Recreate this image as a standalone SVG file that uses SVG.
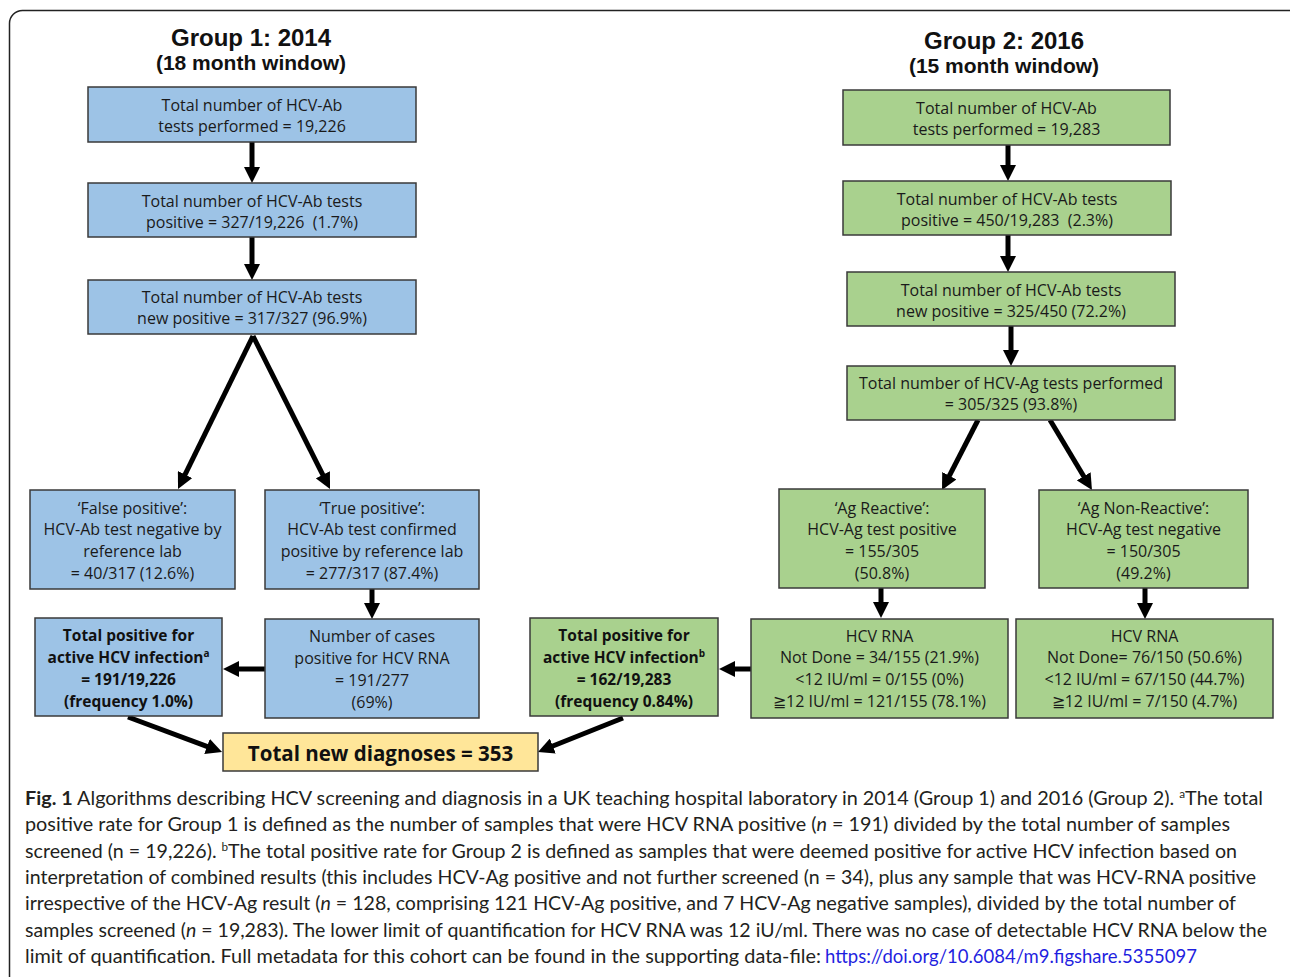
<svg xmlns="http://www.w3.org/2000/svg" width="1290" height="977" viewBox="0 0 1290 977">
<style>
.bx{stroke:#3a3a3a;stroke-width:1.5}
.blue{fill:#9dc3e6}
.green{fill:#a9d18e}
.yellow{fill:#ffe699}
.t{font-family:"Open Sans","Liberation Sans",sans-serif;font-size:16px;fill:#1a1a1a;text-anchor:middle}
.tb{font-family:"Open Sans","Liberation Sans",sans-serif;font-size:15.5px;font-weight:bold;fill:#111;text-anchor:middle}
.tbig{font-family:"Open Sans","Liberation Sans",sans-serif;font-size:20.5px;font-weight:bold;fill:#111;text-anchor:middle}
.ti{font-family:"Liberation Sans",Arial,sans-serif;font-weight:bold;fill:#111;text-anchor:middle}
.cap{font-family:Lato,"Open Sans",sans-serif;font-size:18.5px;fill:#231f20}
.arr{stroke:#000;stroke-width:5;fill:none;marker-end:url(#ah)}
</style>
<defs>
<marker id="ah" markerUnits="userSpaceOnUse" markerWidth="16" markerHeight="16" viewBox="0 0 16 16" refX="4" refY="8" orient="auto">
<path d="M0,0 L16,8 L0,16 z" fill="#000"/>
</marker>
</defs>
<rect x="0" y="0" width="1290" height="977" fill="#fff"/>
<rect x="9.5" y="10.5" width="1300" height="990" rx="13" fill="none" stroke="#222" stroke-width="1.5"/>

<g id="titles">
<text class="ti" x="251" y="46" font-size="24">Group 1: 2014</text>
<text class="ti" x="251" y="70" font-size="21">(18 month window)</text>
<text class="ti" x="1004" y="49" font-size="24">Group 2: 2016</text>
<text class="ti" x="1004" y="73" font-size="21">(15 month window)</text>
</g>

<g id="connectors">
<line class="arr" x1="252" y1="142" x2="252" y2="171"/>
<line class="arr" x1="252" y1="237" x2="252" y2="268"/>
<line class="arr" x1="253" y1="336" x2="183.3" y2="478.2"/>
<line class="arr" x1="253" y1="336" x2="324.6" y2="478.3"/>
<line class="arr" x1="372" y1="589" x2="372" y2="607"/>
<line class="arr" x1="265" y1="669" x2="235" y2="669"/>
<line class="arr" x1="128" y1="717" x2="210.8" y2="747.8"/>
<line class="arr" x1="623" y1="718" x2="549.1" y2="747.5"/>
<line class="arr" x1="1008" y1="145" x2="1008" y2="169"/>
<line class="arr" x1="1008" y1="235" x2="1008" y2="260"/>
<line class="arr" x1="1011" y1="326" x2="1011" y2="354"/>
<line class="arr" x1="978" y1="420" x2="947.5" y2="479.3"/>
<line class="arr" x1="1050" y1="420" x2="1085.8" y2="479.7"/>
<line class="arr" x1="881" y1="588" x2="881" y2="606"/>
<line class="arr" x1="1145" y1="588" x2="1145" y2="607"/>
<line class="arr" x1="751" y1="669" x2="731" y2="669"/>
</g>

<g id="g1-total">
<rect class="bx blue" x="88" y="87" width="328" height="55"/>
<text class="t" x="252" y="111">Total number of HCV-Ab</text>
<text class="t" x="252" y="132">tests performed = 19,226</text>
</g>
<g id="g1-positive">
<rect class="bx blue" x="88" y="183" width="328" height="54"/>
<text class="t" x="252" y="207">Total number of HCV-Ab tests</text>
<text class="t" x="252" y="228" xml:space="preserve">positive = 327/19,226  (1.7%)</text>
</g>
<g id="g1-newpositive">
<rect class="bx blue" x="88" y="280" width="328" height="54"/>
<text class="t" x="252" y="303">Total number of HCV-Ab tests</text>
<text class="t" x="252" y="324">new positive = 317/327 (96.9%)</text>
</g>
<g id="g1-false">
<rect class="bx blue" x="30" y="490" width="205" height="99"/>
<text class="t" x="132.5" y="514">‘False positive’:</text>
<text class="t" x="132.5" y="535">HCV-Ab test negative by</text>
<text class="t" x="132.5" y="557">reference lab</text>
<text class="t" x="132.5" y="579">= 40/317 (12.6%)</text>
</g>
<g id="g1-true">
<rect class="bx blue" x="265" y="490" width="214" height="99"/>
<text class="t" x="372" y="514">‘True positive’:</text>
<text class="t" x="372" y="535">HCV-Ab test confirmed</text>
<text class="t" x="372" y="557">positive by reference lab</text>
<text class="t" x="372" y="579">= 277/317 (87.4%)</text>
</g>
<g id="g1-rna">
<rect class="bx blue" x="265" y="619" width="214" height="99"/>
<text class="t" x="372" y="642">Number of cases</text>
<text class="t" x="372" y="664">positive for HCV RNA</text>
<text class="t" x="372" y="686">= 191/277</text>
<text class="t" x="372" y="708">(69%)</text>
</g>
<g id="g1-active">
<rect class="bx blue" x="35" y="618" width="187" height="98"/>
<text class="tb" x="128.5" y="641">Total positive for</text>
<text class="tb" x="128.5" y="663">active HCV infection<tspan font-size="10" dy="-6">a</tspan></text>
<text class="tb" x="128.5" y="685">= 191/19,226</text>
<text class="tb" x="128.5" y="707">(frequency 1.0%)</text>
</g>

<g id="total-new">
<rect class="bx yellow" x="223" y="733" width="315" height="38"/>
<text class="tbig" x="380.5" y="761">Total new diagnoses = 353</text>
</g>

<g id="g2-total">
<rect class="bx green" x="843" y="90" width="327" height="55"/>
<text class="t" x="1006.5" y="114">Total number of HCV-Ab</text>
<text class="t" x="1006.5" y="135">tests performed = 19,283</text>
</g>
<g id="g2-positive">
<rect class="bx green" x="843" y="181" width="328" height="54"/>
<text class="t" x="1007" y="205">Total number of HCV-Ab tests</text>
<text class="t" x="1007" y="226" xml:space="preserve">positive = 450/19,283  (2.3%)</text>
</g>
<g id="g2-newpositive">
<rect class="bx green" x="847" y="272" width="328" height="54"/>
<text class="t" x="1011" y="296">Total number of HCV-Ab tests</text>
<text class="t" x="1011" y="317">new positive = 325/450 (72.2%)</text>
</g>
<g id="g2-ag">
<rect class="bx green" x="847" y="366" width="328" height="54"/>
<text class="t" x="1011" y="389">Total number of HCV-Ag tests performed</text>
<text class="t" x="1011" y="410">= 305/325 (93.8%)</text>
</g>
<g id="g2-reactive">
<rect class="bx green" x="779" y="489" width="206" height="99"/>
<text class="t" x="882" y="514">‘Ag Reactive’:</text>
<text class="t" x="882" y="535">HCV-Ag test positive</text>
<text class="t" x="882" y="557">= 155/305</text>
<text class="t" x="882" y="579">(50.8%)</text>
</g>
<g id="g2-nonreactive">
<rect class="bx green" x="1039" y="490" width="209" height="98"/>
<text class="t" x="1143.5" y="514">‘Ag Non-Reactive’:</text>
<text class="t" x="1143.5" y="535">HCV-Ag test negative</text>
<text class="t" x="1143.5" y="557">= 150/305</text>
<text class="t" x="1143.5" y="579">(49.2%)</text>
</g>
<g id="g2-rna-reactive">
<rect class="bx green" x="751" y="619" width="257" height="99"/>
<text class="t" x="879.5" y="642">HCV RNA</text>
<text class="t" x="879.5" y="663">Not Done = 34/155 (21.9%)</text>
<text class="t" x="879.5" y="685">&lt;12 IU/ml = 0/155 (0%)</text>
<text class="t" x="879.5" y="707">≧12 IU/ml = 121/155 (78.1%)</text>
</g>
<g id="g2-rna-nonreactive">
<rect class="bx green" x="1016" y="619" width="257" height="99"/>
<text class="t" x="1144.5" y="642">HCV RNA</text>
<text class="t" x="1144.5" y="663">Not Done= 76/150 (50.6%)</text>
<text class="t" x="1144.5" y="685">&lt;12 IU/ml = 67/150 (44.7%)</text>
<text class="t" x="1144.5" y="707">≧12 IU/ml = 7/150 (4.7%)</text>
</g>
<g id="g2-active">
<rect class="bx green" x="530" y="618" width="188" height="98"/>
<text class="tb" x="624" y="641">Total positive for</text>
<text class="tb" x="624" y="663">active HCV infection<tspan font-size="10" dy="-6">b</tspan></text>
<text class="tb" x="624" y="685">= 162/19,283</text>
<text class="tb" x="624" y="707">(frequency 0.84%)</text>
</g>

<g id="caption">
<text class="cap" x="25" y="805" textLength="1238" lengthAdjust="spacingAndGlyphs"><tspan font-weight="bold">Fig. 1</tspan> Algorithms describing HCV screening and diagnosis in a UK teaching hospital laboratory in 2014 (Group 1) and 2016 (Group 2). <tspan font-size="11" dy="-7">a</tspan><tspan dy="7">The total</tspan></text>
<text class="cap" x="25" y="831" textLength="1205" lengthAdjust="spacingAndGlyphs">positive rate for Group 1 is defined as the number of samples that were HCV RNA positive (<tspan font-style="italic">n</tspan> = 191) divided by the total number of samples</text>
<text class="cap" x="25" y="858" textLength="1212" lengthAdjust="spacingAndGlyphs">screened (n = 19,226). <tspan font-size="11" dy="-7">b</tspan><tspan dy="7">The total positive rate for Group 2 is defined as samples that were deemed positive for active HCV infection based on</tspan></text>
<text class="cap" x="25" y="884" textLength="1231" lengthAdjust="spacingAndGlyphs">interpretation of combined results (this includes HCV-Ag positive and not further screened (n = 34), plus any sample that was HCV-RNA positive</text>
<text class="cap" x="25" y="910" textLength="1211" lengthAdjust="spacingAndGlyphs">irrespective of the HCV-Ag result (<tspan font-style="italic">n</tspan> = 128, comprising 121 HCV-Ag positive, and 7 HCV-Ag negative samples), divided by the total number of</text>
<text class="cap" x="25" y="937" textLength="1242" lengthAdjust="spacingAndGlyphs">samples screened (<tspan font-style="italic">n</tspan> = 19,283). The lower limit of quantification for HCV RNA was 12 iU/ml. There was no case of detectable HCV RNA below the</text>
<text class="cap" x="25" y="963" textLength="796" lengthAdjust="spacingAndGlyphs">limit of quantification. Full metadata for this cohort can be found in the supporting data-file:</text>
<text class="cap" x="825" y="963" textLength="372" lengthAdjust="spacingAndGlyphs" style="fill:#1f1fe0">https://doi.org/10.6084/m9.figshare.5355097</text>
</g>
</svg>
